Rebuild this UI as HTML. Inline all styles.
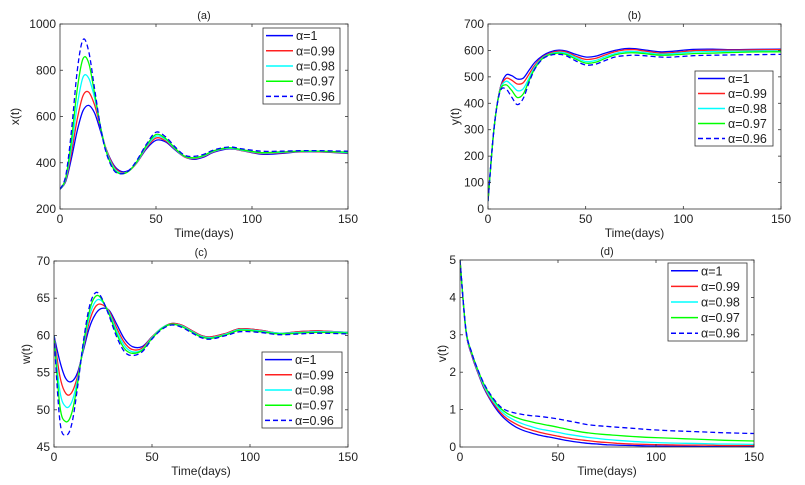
<!DOCTYPE html>
<html><head><meta charset="utf-8"><style>
body{margin:0;background:#fff;}
svg{display:block;font-family:"Liberation Sans",sans-serif;}
</style></head><body>
<svg id="fig" width="805" height="485" viewBox="0 0 805 485"></svg>
<script>
const T = [0,3,6,9,12,15,18,21,24,28,32,36,40,45,50,55,60,65,70,75,80,88,95,105,115,125,135,150];
const alphaLabels = ["α=1","α=0.99","α=0.98","α=0.97","α=0.96"];
const xA1=[285,320,420,540,625,648,615,540,460,390,362,368,400,460,497,490,455,425,415,425,445,460,452,437,440,447,447,440];
const xA99=[285,325,445,590,690,705,650,555,460,385,358,365,400,465,507,495,458,425,418,428,448,462,452,440,443,448,448,442];
const xA98=[285,330,470,650,770,765,680,560,455,378,355,365,402,470,515,500,460,427,420,430,450,463,454,442,445,449,449,444];
const xA97=[285,335,500,720,850,830,700,560,450,372,352,365,405,475,522,505,462,428,422,432,452,465,456,444,447,450,450,446];
const xA96=[285,345,540,800,932,880,720,560,445,368,352,368,410,480,532,512,468,432,428,437,455,468,460,450,450,452,452,450];
const yB1=[30,300,450,505,505,492,495,525,555,580,595,601,598,585,575,578,590,600,607,607,602,595,597,604,605,603,604,605];
const yB99=[30,300,448,493,488,473,478,510,545,575,590,597,594,578,566,570,583,595,602,603,598,590,592,599,601,601,602,603];
const yB98=[30,300,445,483,470,448,455,495,538,572,587,593,590,573,558,562,576,588,595,596,592,586,588,594,596,597,598,598];
const yB97=[30,300,443,470,450,422,435,485,532,570,585,590,585,567,552,555,570,583,590,591,588,582,583,588,590,592,594,595];
const yB96=[30,300,440,455,425,395,418,478,530,568,582,585,580,560,545,548,562,575,580,582,580,575,575,580,582,583,584,585];
const wC1=[60,56.5,54.2,53.8,55,58,61,62.8,63.6,63.4,61.5,59.5,58.5,58.5,59.8,61,61.6,61.4,60.7,60,59.8,60.3,60.9,60.7,60.3,60.5,60.6,60.4];
const wC99=[60,54.5,52.2,52.3,54.5,58.3,61.8,63.8,64.2,63.3,61,59,58.1,58.3,59.8,61,61.6,61.4,60.7,60,59.8,60.3,60.9,60.7,60.3,60.5,60.6,60.4];
const wC98=[60,52.5,50.4,51,54,58.5,62.5,64.5,64.7,63.1,60.6,58.6,57.8,58.1,59.7,61,61.5,61.3,60.6,59.9,59.7,60.2,60.8,60.6,60.3,60.4,60.5,60.4];
const wC97=[60,50.5,48.4,49.5,53.5,58.8,63.2,65.2,65,62.9,60.2,58.2,57.6,58,59.6,60.9,61.5,61.2,60.5,59.8,59.6,60.1,60.7,60.5,60.2,60.3,60.4,60.3];
const wC96=[60,48.5,46.6,48,53,59.2,63.8,65.7,65.2,62.7,59.8,57.8,57.3,57.8,59.5,60.8,61.4,61.1,60.4,59.7,59.5,60,60.5,60.4,60.1,60.2,60.3,60.2];
const vD1=[5,3.1,2.45,2.0,1.6,1.3,1.05,0.85,0.7,0.55,0.45,0.38,0.32,0.27,0.22,0.17,0.13,0.1,0.08,0.06,0.05,0.04,0.03,0.02,0.02,0.01,0.01,0.01];
const vD99=[5,3.1,2.47,2.02,1.63,1.33,1.1,0.9,0.76,0.63,0.53,0.46,0.4,0.34,0.29,0.24,0.2,0.17,0.14,0.12,0.1,0.08,0.07,0.06,0.05,0.05,0.04,0.04];
const vD98=[5,3.12,2.5,2.05,1.66,1.37,1.15,0.96,0.83,0.71,0.62,0.55,0.49,0.44,0.39,0.34,0.3,0.26,0.23,0.2,0.18,0.15,0.13,0.11,0.1,0.09,0.08,0.07];
const vD97=[5,3.15,2.52,2.08,1.7,1.42,1.2,1.02,0.9,0.8,0.73,0.68,0.63,0.58,0.53,0.47,0.42,0.38,0.35,0.33,0.31,0.28,0.26,0.24,0.22,0.2,0.18,0.16];
const vD96=[5,3.15,2.52,2.08,1.72,1.45,1.23,1.06,0.97,0.91,0.87,0.84,0.82,0.79,0.75,0.7,0.65,0.6,0.57,0.55,0.53,0.5,0.47,0.44,0.42,0.4,0.38,0.36];
const xTicks=[0,50,100,150];
const yTicksA=[200,400,600,800,1000];
const yTicksB=[0,100,200,300,400,500,600,700];
const yTicksC=[45,50,55,60,65,70];
const yTicksD=[0,1,2,3,4,5];

const NS="http://www.w3.org/2000/svg";
const svg=document.getElementById('fig');
const colors=["#0000ff","#ff2020","#00ffff","#00ff00","#0000ff"];
function mk(tag,attrs,parent){const e=document.createElementNS(NS,tag);for(const k in attrs)e.setAttribute(k,attrs[k]);(parent||svg).appendChild(e);return e;}

function smooth(pts){let d=`M${pts[0][0].toFixed(1)},${pts[0][1].toFixed(1)}`;
 for(let i=0;i<pts.length-1;i++){const p0=pts[Math.max(0,i-1)],p1=pts[i],p2=pts[i+1],p3=pts[Math.min(pts.length-1,i+2)];
  const c1=[p1[0]+(p2[0]-p0[0])/6,p1[1]+(p2[1]-p0[1])/6],c2=[p2[0]-(p3[0]-p1[0])/6,p2[1]-(p3[1]-p1[1])/6];
  d+=`C${c1[0].toFixed(1)},${c1[1].toFixed(1)} ${c2[0].toFixed(1)},${c2[1].toFixed(1)} ${p2[0].toFixed(1)},${p2[1].toFixed(1)}`;}
 return d;}

function panel(cfg){
 const g=mk('g',{});
 
 
 const sx=v=>cfg.x0+(v-0)/(150-0)*(cfg.x1-cfg.x0);
 const sy=v=>cfg.yb+(v-cfg.ymin)/(cfg.ymax-cfg.ymin)*(cfg.yt-cfg.yb);
 const clipId='clip'+cfg.id;
 const cp=mk('clipPath',{id:clipId},g);mk('rect',{x:cfg.x0,y:cfg.yt,width:cfg.x1-cfg.x0,height:cfg.yb-cfg.yt},cp);
 cfg.series.forEach((s,i)=>{
  const p=mk('path',{d:smooth(T.map((t,j)=>[sx(t),sy(s[j])])),fill:'none',stroke:colors[i],'stroke-width':1.3,'clip-path':`url(#${clipId})`},g);
  if(i===4)p.setAttribute('stroke-dasharray','5,3');
  
  
 });
 const box=mk('rect',{x:cfg.x0,y:cfg.yt,width:cfg.x1-cfg.x0,height:cfg.yb-cfg.yt,fill:'none',stroke:'#333','stroke-width':0.8},g);
 
 
 xTicks.forEach(v=>{const x=sx(v);
  mk('line',{x1:x,x2:x,y1:cfg.yb,y2:cfg.yb-3,stroke:'#333','stroke-width':0.8},g);
  mk('line',{x1:x,x2:x,y1:cfg.yt,y2:cfg.yt+3,stroke:'#333','stroke-width':0.8},g);
  const t=mk('text',{x:x,y:cfg.yb+14,'text-anchor':'middle','font-size':12,fill:'#222'},g);t.textContent=v;
  
  });
 cfg.yTicks.forEach(v=>{const y=sy(v);
  mk('line',{x1:cfg.x0,x2:cfg.x0+3,y1:y,y2:y,stroke:'#333','stroke-width':0.8},g);
  mk('line',{x1:cfg.x1,x2:cfg.x1-3,y1:y,y2:y,stroke:'#333','stroke-width':0.8},g);
  const t=mk('text',{x:cfg.x0-4,y:y+4,'text-anchor':'end','font-size':12,fill:'#222'},g);t.textContent=v;
  
  });
 const ti=mk('text',{x:(cfg.x0+cfg.x1)/2,y:cfg.yt-5,'text-anchor':'middle','font-size':11,fill:'#222'},g);ti.textContent='('+cfg.id+')';
 
 
 const xl=mk('text',{x:(cfg.x0+cfg.x1)/2,y:cfg.yb+28,'text-anchor':'middle','font-size':12,fill:'#222'},g);xl.textContent='Time(days)';
 
 
 const ym=(cfg.yt+cfg.yb)/2;
 const yl=mk('text',{x:cfg.ylx,y:ym,'text-anchor':'middle','font-size':12,fill:'#222',transform:`rotate(-90 ${cfg.ylx} ${ym})`},g);yl.textContent=cfg.ylabel;
 
 
 const L=cfg.leg;
 const lg=mk('g',{},g);
 
 
 mk('rect',{x:L[0],y:L[1],width:L[2],height:L[3],fill:'#fff',stroke:'#333','stroke-width':0.8},lg);
 const rh=L[3]/5;
 alphaLabels.forEach((lab,i)=>{const y=L[1]+rh*(i+0.5);
  const ln=mk('line',{x1:L[0]+3,x2:L[0]+30,y1:y,y2:y,stroke:colors[i],'stroke-width':1.5},lg);
  if(i===4)ln.setAttribute('stroke-dasharray','5,3');
  const t=mk('text',{x:L[0]+33,y:y+4.5,'font-size':12.5,fill:'#222'},lg);t.textContent=lab;
  
  });
}
panel({id:'a',x0:60,x1:348,yt:24,yb:209,ymin:200,ymax:1000,yTicks:yTicksA,series:[xA1,xA99,xA98,xA97,xA96],ylabel:'x(t)',ylx:19,leg:[263,28,77,76]});
panel({id:'b',x0:488,x1:781,yt:24,yb:209,ymin:0,ymax:700,yTicks:yTicksB,series:[yB1,yB99,yB98,yB97,yB96],ylabel:'y(t)',ylx:459,leg:[695,71,78,75]});
panel({id:'c',x0:54,x1:348,yt:261,yb:447,ymin:45,ymax:70,yTicks:yTicksC,series:[wC1,wC99,wC98,wC97,wC96],ylabel:'w(t)',ylx:30,leg:[262,352,80,76]});
panel({id:'d',x0:460,x1:754,yt:260,yb:447,ymin:0,ymax:5,yTicks:yTicksD,series:[vD1,vD99,vD98,vD97,vD96],ylabel:'v(t)',ylx:446,leg:[668,263,79,78]});
</script>
</body></html>
